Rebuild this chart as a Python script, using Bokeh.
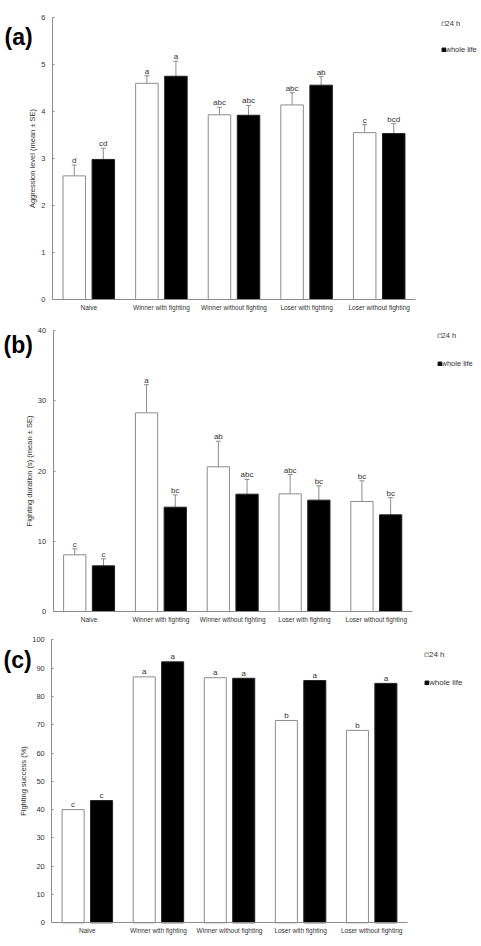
from bokeh.plotting import figure
from bokeh.models import (Range1d, FixedTicker, Whisker, TeeHead, ColumnDataSource,
                          Legend, LegendItem, Label)
from bokeh.layouts import column
from bokeh.embed import file_html
from bokeh.resources import INLINE

FONT = "Liberation Sans"

# ---------------- data ----------------
categories = ["Naive", "Winner with fighting", "Winner without fighting",
              "Loser with fighting", "Loser without fighting"]
series_names = ["24 h", "whole life"]

# (a) Aggression level (mean ± SE)
agg_24h = [2.63, 4.60, 3.93, 4.14, 3.55]
agg_24h_se = [0.23, 0.16, 0.16, 0.26, 0.17]
agg_whole = [2.98, 4.75, 3.92, 4.56, 3.53]
agg_whole_se = [0.24, 0.32, 0.21, 0.18, 0.21]
agg_24h_letters = ["d", "a", "abc", "abc", "c"]
agg_whole_letters = ["cd", "a", "abc", "ab", "bcd"]

# (b) Fighting duration (s) (mean ± SE)
dur_24h = [8.07, 28.28, 20.6, 16.75, 15.66]
dur_24h_se = [0.85, 4.0, 3.64, 2.75, 2.94]
dur_whole = [6.5, 14.85, 16.7, 15.85, 13.76]
dur_whole_se = [1.0, 1.75, 2.1, 2.05, 2.44]
dur_24h_letters = ["c", "a", "ab", "abc", "bc"]
dur_whole_letters = ["c", "bc", "abc", "bc", "bc"]

# (c) Fighting success (%)
succ_24h = [40.0, 86.9, 86.6, 71.5, 68.0]
succ_whole = [43.2, 92.2, 86.4, 85.6, 84.6]
succ_24h_letters = ["c", "a", "a", "b", "b"]
succ_whole_letters = ["c", "a", "a", "a", "a"]

y_ticks_a = [0, 1, 2, 3, 4, 5, 6]
y_ticks_b = [0, 10, 20, 30, 40]
y_ticks_c = [0, 10, 20, 30, 40, 50, 60, 70, 80, 90, 100]

AXIS_COLOR = "#8c8c8c"
TEXT_COLOR = "#333333"
W = 481


def make_panel(letter, ylabel, yticks, v24, vwl, se24, sewl, l24, lwl,
               height, box, letter_pos, leg_pos, leg_dy, leg_size, letter_off):
    """box = (left, top, right, bottom) pixel position of the plotting area."""
    n = len(categories)
    ymax = yticks[-1]
    left, top, right, bottom = box
    xpp = n / (right - left)
    ypp = ymax / (bottom - top)
    x_range = Range1d(-left * xpp, n + (W - right) * xpp)
    y_range = Range1d(-(height - bottom) * ypp, ymax + top * ypp)

    p = figure(width=W, height=height, output_backend="svg", toolbar_location=None,
               x_range=x_range, y_range=y_range,
               min_border=0, min_border_top=0, min_border_bottom=0,
               min_border_left=0, min_border_right=0)
    p.outline_line_color = None
    p.grid.visible = False
    p.background_fill_color = "white"
    p.border_fill_color = "white"

    x24 = [i + 0.5 - 0.2 for i in range(n)]
    xwl = [i + 0.5 + 0.2 for i in range(n)]

    r24 = p.vbar(x=x24, top=v24, width=0.31, bottom=0, fill_color="white",
                 line_color="#8c8c8c", line_width=1)
    rwl = p.vbar(x=xwl, top=vwl, width=0.31, bottom=0, fill_color="black",
                 line_color="#222222", line_width=1)

    lab_x, lab_y, lab_t = [], [], []
    for xs, vals, ses, lets in ((x24, v24, se24, l24), (xwl, vwl, sewl, lwl)):
        if ses is not None:
            up = [v + s for v, s in zip(vals, ses)]
            src = ColumnDataSource(dict(x=xs, lower=vals, upper=up))
            w = Whisker(base="x", lower="lower", upper="upper", dimension="height",
                        source=src, line_color=AXIS_COLOR, line_width=1,
                        lower_head=None,
                        upper_head=TeeHead(size=5, line_color=AXIS_COLOR, line_width=1))
            p.add_layout(w)
        else:
            up = list(vals)
        lab_x += xs
        lab_y += up
        lab_t += lets
    p.text(x=lab_x, y=lab_y, text=lab_t, text_align="center", text_baseline="alphabetic",
           y_offset=letter_off, text_font_size="8px", text_color=TEXT_COLOR,
           text_font={"value": FONT})

    # axes, fixed at the data origin, limited to the data extent
    p.xaxis.fixed_location = 0
    p.xaxis.bounds = (0, n)
    p.xaxis.ticker = FixedTicker(ticks=[i + 0.5 for i in range(n)])
    p.xaxis.major_label_overrides = {i + 0.5: c for i, c in enumerate(categories)}
    p.xaxis.major_tick_line_color = None
    p.xaxis.major_tick_in = 0
    p.xaxis.major_tick_out = 0
    p.xaxis.minor_tick_line_color = None
    p.xaxis.minor_tick_in = 0
    p.xaxis.minor_tick_out = 0
    p.xaxis.axis_line_color = AXIS_COLOR
    p.xaxis.major_label_text_font_size = "6.5px"
    p.xaxis.major_label_text_font = FONT
    p.xaxis.major_label_text_color = TEXT_COLOR
    p.xaxis.major_label_standoff = 4

    p.yaxis.fixed_location = 0
    p.yaxis.bounds = (0, ymax)
    p.yaxis.ticker = FixedTicker(ticks=yticks)
    p.yaxis.minor_tick_line_color = None
    p.yaxis.minor_tick_in = 0
    p.yaxis.minor_tick_out = 0
    p.yaxis.major_tick_in = 2
    p.yaxis.major_tick_out = 0
    p.yaxis.major_tick_line_color = AXIS_COLOR
    p.yaxis.axis_line_color = AXIS_COLOR
    p.yaxis.major_label_text_font_size = "7.5px"
    p.yaxis.major_label_text_font = FONT
    p.yaxis.major_label_text_color = TEXT_COLOR
    p.yaxis.major_label_standoff = 7
    p.yaxis.axis_label = ylabel
    p.yaxis.axis_label_text_font_size = "7.5px"
    p.yaxis.axis_label_text_font = FONT
    p.yaxis.axis_label_text_font_style = "normal"
    p.yaxis.axis_label_text_color = TEXT_COLOR
    p.yaxis.axis_label_standoff = 1

    def dx(px):
        return (px - left) * xpp

    def dy(py):
        return (bottom - py) * ypp

    p.add_layout(Label(x=dx(letter_pos[0]), y=dy(letter_pos[1]), text=letter,
                       text_font_size="23px", text_font_style="bold", text_font=FONT,
                       text_color="black", text_align="left", text_baseline="middle"))

    # legend entries, one per series, right of the bars
    for k, (rend, name) in enumerate(((r24, series_names[0]), (rwl, series_names[1]))):
        cy = leg_pos[1] + k * leg_dy
        lg = Legend(items=[LegendItem(label=name, renderers=[rend])],
                    location=(leg_pos[0], height - (cy + 4.5)), padding=0, margin=0,
                    spacing=0, glyph_width=5, glyph_height=5, label_height=9,
                    label_standoff=0, label_text_font_size=leg_size,
                    label_text_font=FONT, label_text_color=TEXT_COLOR,
                    border_line_color=None, background_fill_alpha=0)
        p.add_layout(lg, "center")
    return p


pa = make_panel("(a)", "Aggression level (mean ± SE)", y_ticks_a,
                agg_24h, agg_whole, agg_24h_se, agg_whole_se,
                agg_24h_letters, agg_whole_letters,
                height=315, box=(52, 17, 415, 299),
                letter_pos=(4, 36.5), leg_pos=(440.5, 23.3), leg_dy=26,
                leg_size="7.5px", letter_off=-4.5)
pb = make_panel("(b)", "Fighting duration (s) (mean ± SE)", y_ticks_b,
                dur_24h, dur_whole, dur_24h_se, dur_whole_se,
                dur_24h_letters, dur_whole_letters,
                height=313, box=(52.7, 15, 411.7, 296),
                letter_pos=(3, 29), leg_pos=(436.5, 20), leg_dy=28.3,
                leg_size="7.5px", letter_off=-4.5)
pc = make_panel("(c)", "Fighting success (%)", y_ticks_c,
                succ_24h, succ_whole, None, None,
                succ_24h_letters, succ_whole_letters,
                height=318, box=(51.3, 11.3, 406.7, 294.3),
                letter_pos=(3, 31), leg_pos=(424, 26), leg_dy=28.7,
                leg_size="8px", letter_off=-5)

layout = column(pa, pb, pc, spacing=0)
open("out.html", "w").write(file_html(layout, INLINE))
